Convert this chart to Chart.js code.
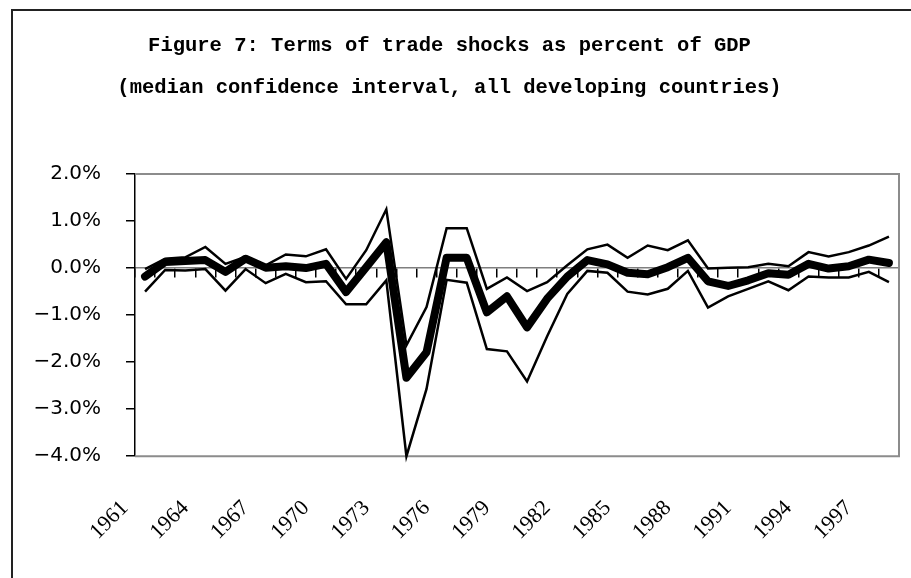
<!DOCTYPE html>
<html lang="en">
<head>
<meta charset="UTF-8">
<title>Figure 7</title>
<script src="https://cdn.jsdelivr.net/npm/chart.js"></script>
<style>
  html, body { margin: 0; padding: 0; background: #fff; overflow: hidden; }
  #wrap { position: relative; width: 911px; height: 578px; }
  #frame { position: absolute; left: 11px; top: 9px; width: 1000px; height: 1000px;
           border-left: 2px solid #222; border-top: 2px solid #222; pointer-events: none; }
</style>
</head>
<body>
<div id="wrap">
  <canvas id="myChart" width="911" height="578"></canvas>
  <div id="frame"></div>
</div>
<script>
const years = ['1961', '1962', '1963', '1964', '1965', '1966', '1967', '1968', '1969', '1970',
               '1971', '1972', '1973', '1974', '1975', '1976', '1977', '1978', '1979', '1980',
               '1981', '1982', '1983', '1984', '1985', '1986', '1987', '1988', '1989', '1990',
               '1991', '1992', '1993', '1994', '1995', '1996', '1997', '1998'];

// percent of GDP
const median = [-0.18, 0.13, 0.15, 0.17, -0.08, 0.20, 0.01, 0.04, 0.00, 0.09,
                -0.51, 0.02, 0.55, -2.33, -1.79, 0.22, 0.22, -0.94, -0.60, -1.26,
                -0.65, -0.18, 0.17, 0.08, -0.10, -0.13, 0.02, 0.22, -0.28, -0.38,
                -0.26, -0.11, -0.14, 0.09, -0.01, 0.04, 0.18, 0.11];
const upper = [-0.02, 0.20, 0.23, 0.45, 0.09, 0.24, 0.06, 0.29, 0.25, 0.40,
               -0.23, 0.38, 1.25, -1.64, -0.83, 0.85, 0.85, -0.44, -0.20, -0.49,
               -0.30, 0.06, 0.40, 0.50, 0.22, 0.48, 0.38, 0.59, -0.01, 0.01,
               0.02, 0.09, 0.04, 0.34, 0.25, 0.34, 0.48, 0.67];
const lower = [-0.50, -0.04, -0.05, -0.02, -0.48, -0.02, -0.32, -0.12, -0.30, -0.28,
               -0.77, -0.77, -0.26, -4.00, -2.57, -0.25, -0.31, -1.72, -1.77, -2.41,
               -1.45, -0.55, -0.06, -0.10, -0.50, -0.56, -0.44, -0.06, -0.84, -0.60,
               -0.44, -0.28, -0.47, -0.18, -0.20, -0.20, -0.08, -0.30];

const yMin = -4;
const yMax = 2;
const labelEvery = 3;

// grey box round the plot area (left side is the black y axis)
const plotFrame = {
    id: 'plotFrame',
    beforeDatasetsDraw(chart) {
        const {ctx, chartArea: a} = chart;
        ctx.save();
        ctx.strokeStyle = '#8c8c8c';
        ctx.lineWidth = 2;
        ctx.beginPath();
        ctx.moveTo(a.left, a.top);
        ctx.lineTo(a.right, a.top);
        ctx.lineTo(a.right, a.bottom);
        ctx.lineTo(a.left, a.bottom);
        ctx.stroke();
        ctx.restore();
    }
};

const thin = {
    borderColor: '#000',
    borderWidth: 2.5,
    borderJoinStyle: 'miter',
    pointRadius: 0,
    clip: false
};

const ctx = document.getElementById('myChart').getContext('2d');
const myChart = new Chart(ctx, {
    type: 'line',
    data: {
        labels: years,
        datasets: [
            Object.assign({label: 'Upper', data: upper}, thin),
            Object.assign({label: 'Lower', data: lower}, thin),
            {
                label: 'Median',
                data: median,
                borderColor: '#000',
                borderWidth: 8,
                borderCapStyle: 'round',
                borderJoinStyle: 'round',
                pointRadius: 0,
                clip: false
            }
        ]
    },
    options: {
        responsive: false,
        animation: false,
        layout: {
            padding: {left: 0, right: 12, top: 0, bottom: 30}
        },
        plugins: {
            legend: {display: false},
            tooltip: {enabled: false},
            title: {
                display: true,
                text: ['Figure 7: Terms of trade shocks as percent of GDP',
                       '(median confidence interval, all developing countries)'],
                color: '#000',
                font: {family: 'Liberation Mono', weight: 'bold', size: 20.5, lineHeight: 2.05},
                padding: {top: 25, bottom: 65}
            }
        },
        scales: {
            x: {
                type: 'category',
                position: 'bottom',
                offset: true,
                grid: {display: true, drawOnChartArea: false, drawTicks: true, tickLength: 36,
                       color: 'rgba(0,0,0,0)'},
                border: {display: false},
                ticks: {
                    autoSkip: false,
                    maxRotation: 45,
                    minRotation: 45,
                    padding: 3,
                    labelOffset: -20,
                    color: '#000',
                    font: {family: 'Liberation Serif', size: 22},
                    callback: function (value, index) {
                        return index % labelEvery === 0 ? this.getLabelForValue(value) : '';
                    }
                }
            },
            x0: {
                type: 'category',
                position: {y: 0},
                offset: true,
                grid: {drawOnChartArea: false, drawTicks: true, tickLength: 9,
                       color: '#000', lineWidth: 1.5, offset: true},
                border: {color: '#7f7f7f', width: 1.5},
                ticks: {display: false, autoSkip: false}
            },
            y: {
                min: yMin,
                max: yMax,
                afterFit: scale => { scale.width = 135; },
                grid: {drawOnChartArea: false, tickLength: 9, color: '#000', lineWidth: 1.5},
                border: {color: '#000', width: 1.5},
                ticks: {
                    stepSize: 1,
                    padding: 25,
                    color: '#000',
                    font: {family: 'DejaVu Sans', size: 20},
                    callback: v => (v < 0 ? '\u2212' : '') + Math.abs(v).toFixed(1) + '%'
                }
            }
        }
    },
    plugins: [plotFrame]
});
</script>
</body>
</html>
